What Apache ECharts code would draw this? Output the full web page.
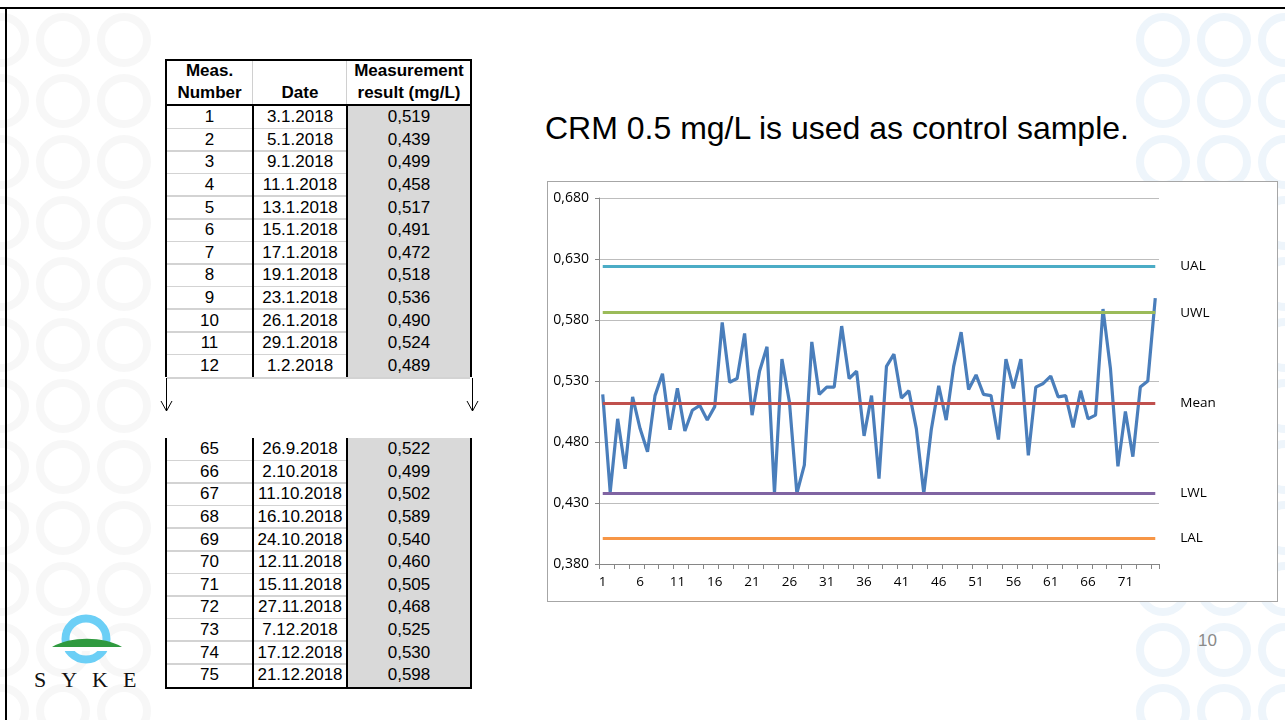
<!DOCTYPE html>
<html><head><meta charset="utf-8">
<script src="https://cdn.jsdelivr.net/npm/echarts@6/dist/echarts.min.js"></script>
<style>
html,body{margin:0;padding:0;background:#fff;width:1285px;height:720px;overflow:hidden;position:relative;font-family:"Liberation Sans",Arial,sans-serif;}
#bg{position:absolute;left:0;top:0;}
#chart{position:absolute;left:0;top:0;width:1285px;height:720px;}
.a{position:absolute;box-sizing:border-box;}
.t{position:absolute;display:flex;align-items:center;justify-content:center;white-space:nowrap;color:#000;}
</style></head><body>
<svg id="bg" width="1285" height="720" xmlns="http://www.w3.org/2000/svg"></svg>
<div id="deco"></div>
<div id="chart"></div>
<script>
// ---------------- data ----------------
const measNumbers = ['1','2','3','4','5','6','7','8','9','10','11','12','13','14','15','16','17','18','19','20',
 '21','22','23','24','25','26','27','28','29','30','31','32','33','34','35','36','37','38','39','40',
 '41','42','43','44','45','46','47','48','49','50','51','52','53','54','55','56','57','58','59','60',
 '61','62','63','64','65','66','67','68','69','70','71','72','73','74','75'];
const measurements = [0.519,0.439,0.499,0.458,0.517,0.491,0.472,0.518,0.536,0.490,0.524,0.489,
 0.506,0.510,0.498,0.509,0.578,0.529,0.532,0.569,0.502,0.538,0.558,0.438,0.548,0.513,0.438,0.461,
 0.562,0.519,0.525,0.525,0.575,0.532,0.538,0.485,0.518,0.450,0.542,0.552,0.516,0.522,0.491,0.438,
 0.490,0.526,0.498,0.542,0.570,0.523,0.535,0.519,0.518,0.482,0.548,0.524,0.548,0.469,0.525,0.528,
 0.534,0.517,0.518,0.492,0.522,0.499,0.502,0.589,0.540,0.460,0.505,0.468,0.525,0.530,0.598];
const limitNames = ['UAL','UWL','Mean','LWL','LAL'];
const limitValues = [0.624,0.586,0.512,0.438,0.401];
const yMin = 0.38, yMax = 0.68, yStep = 0.05;
const tableFirstIdx = [0,1,2,3,4,5,6,7,8,9,10,11];
const tableFirstDates = ['3.1.2018','5.1.2018','9.1.2018','11.1.2018','13.1.2018','15.1.2018','17.1.2018','19.1.2018','23.1.2018','26.1.2018','29.1.2018','1.2.2018'];
const tableLastIdx = [64,65,66,67,68,69,70,71,72,73,74];
const tableLastDates = ['26.9.2018','2.10.2018','11.10.2018','16.10.2018','24.10.2018','12.11.2018','15.11.2018','27.11.2018','7.12.2018','17.12.2018','21.12.2018'];
const headers = [['Meas.','Number'],['','Date'],['Measurement','result (mg/L)']];
const titleText = 'CRM 0.5 mg/L is used as control sample.';
const pageNumber = '10';
const logoText = 'SYKE';

// ---------------- styles ----------------
const limitColors = ['#4bacc6','#9bbb59','#c0504d','#8064a2','#f79646'];
const fmt = v => v.toFixed(3).replace('.', ',');

// ---------------- background svg ----------------
const NS = 'http://www.w3.org/2000/svg';
const svg = document.getElementById('bg');
function sv(tag, attrs){const e=document.createElementNS(NS,tag);for(const k in attrs)e.setAttribute(k,attrs[k]);svg.appendChild(e);return e;}
for(let y=40;y<760;y+=61){
  for(const x of [2,63,124]) sv('circle',{cx:x,cy:y,r:23,fill:'none',stroke:'#f7f7f7','stroke-width':8});
  for(const x of [1163,1224,1285]) sv('circle',{cx:x,cy:y,r:23,fill:'none',stroke:'#eef5fb','stroke-width':8});
}
// slide border
sv('rect',{x:0,y:7,width:1290,height:2,fill:'#000'});
sv('rect',{x:5,y:7,width:2,height:720,fill:'#000'});
// chart frame
sv('rect',{x:547.5,y:181.5,width:730,height:420,fill:'#fff',stroke:'#a6a6a6','stroke-width':1});
// logo
sv('circle',{cx:86,cy:639,r:20.5,fill:'none',stroke:'#6ccff6','stroke-width':8});
sv('rect',{x:50,y:645,width:74,height:6,fill:'#fff'});
sv('path',{d:'M52 647 C70 636 104 636 122 647 Z',fill:'#2f9a3f'});
// arrows between table blocks
sv('path',{d:'M166.5 378 L166.5 411 M161 401 L166.5 411 L172 401',stroke:'#000','stroke-width':1,fill:'none'});
sv('path',{d:'M472.5 378 L472.5 411 M467 401 L472.5 411 L478 401',stroke:'#000','stroke-width':1,fill:'none'});

// ---------------- table / texts ----------------
const deco = document.getElementById('deco');
function box(x,y,w,h,c){const d=document.createElement('div');d.className='a';d.style.cssText=`left:${x}px;top:${y}px;width:${w}px;height:${h}px;background:${c};`;deco.appendChild(d);return d;}
function txt(x,y,w,h,s,css){const d=document.createElement('div');d.className='t';d.style.cssText=`left:${x}px;top:${y}px;width:${w}px;height:${h}px;${css||''}`;d.textContent=s;deco.appendChild(d);return d;}
const L=166, C1=253, C2=347, R=471, rowH=22.6;
function block(top, idxs, dates, withBottom){
  const h = idxs.length*rowH;
  box(C2+1, top, R-C2-2, h, '#d9d9d9');
  idxs.forEach((idx,k)=>{
    const y = top + k*rowH;
    if(k>0) box(L+1, y-1, C2-L-2, 1.5, '#d3d3d3');
    txt(L, y, C1-L, rowH, measNumbers[idx], 'font-size:17px;');
    txt(C1, y, C2-C1, rowH, dates[k], 'font-size:17px;');
    txt(C2, y, R-C2, rowH, fmt(measurements[idx]), 'font-size:17px;');
  });
  box(L-1, top, 2, h, '#000');
  box(R-1, top, 2, h, '#000');
  box(C1-1, top, 2, h, '#000');
  box(C2-1, top, 2, h, '#000');
  if(withBottom) box(L-1, top+h, R-L+2, 2, '#000');
  else box(L+1, top+h, R-L-2, 1.5, '#d3d3d3');
}
// header
box(L-1, 59, R-L+2, 2, '#000');
box(L-1, 59, 2, 47, '#000');
box(R-1, 59, 2, 47, '#000');
box(C1-1, 61, 1, 43, '#d0d0d0');
box(C2-1, 61, 1, 43, '#d0d0d0');
box(L-1, 104, R-L+2, 2, '#000');
const cols=[[L,C1],[C1,C2],[C2,R]];
headers.forEach((hh,i)=>{
  txt(cols[i][0], 60, cols[i][1]-cols[i][0], 21, hh[0], 'font-size:17px;font-weight:bold;');
  txt(cols[i][0], 82, cols[i][1]-cols[i][0], 21, hh[1], 'font-size:17px;font-weight:bold;');
});
block(106, tableFirstIdx, tableFirstDates, false);
block(438, tableLastIdx, tableLastDates, true);

// title, page number, logo text
const tt = document.createElement('div');tt.className='a';tt.style.cssText='left:545px;top:108px;font-size:32px;line-height:40px;white-space:nowrap;color:#000;';tt.textContent=titleText;deco.appendChild(tt);
const pn = document.createElement('div');pn.className='a';pn.style.cssText='left:1198px;top:630px;font-size:17px;line-height:22px;color:#8a8a8a;';pn.textContent=pageNumber;deco.appendChild(pn);
const lg = document.createElement('div');lg.className='a';lg.style.cssText='left:34px;top:666px;font-family:"Liberation Serif","DejaVu Serif",serif;font-size:22px;line-height:28px;letter-spacing:15px;color:#111;white-space:nowrap;';lg.textContent=logoText;deco.appendChild(lg);

// ---------------- chart ----------------
const chart = echarts.init(document.getElementById('chart'), null, {renderer:'canvas'});
const markData = limitNames.map((n,i)=>[
  {name:n, coord:[0, limitValues[i]], lineStyle:{color:limitColors[i], width:3, type:'solid'}},
  {coord:[measNumbers.length-1, limitValues[i]]}
]);
chart.setOption({
  animation:false,
  backgroundColor:'transparent',
  grid:{left:599, right:126, top:198, bottom:156, containLabel:false},
  xAxis:{type:'category', data:measNumbers, boundaryGap:true,
    axisLine:{lineStyle:{color:'#868686', width:1}},
    axisTick:{show:true, interval:1, length:5, lineStyle:{color:'#868686'}},
    axisLabel:{interval:4, color:'#000', fontSize:13.5, fontFamily:'Open Sans', margin:11},
    splitLine:{show:false}},
  yAxis:{type:'value', min:yMin, max:yMax, interval:yStep,
    axisLine:{show:true, lineStyle:{color:'#868686'}},
    axisTick:{show:true, length:4, lineStyle:{color:'#868686'}},
    axisLabel:{formatter:v=>fmt(v), color:'#000', fontSize:14, fontFamily:'Open Sans', margin:10},
    splitLine:{show:true, lineStyle:{color:'#bdbdbd', width:1}}},
  series:[{
    type:'line', data:measurements, symbol:'none', smooth:false,
    lineStyle:{color:'#4a7ebb', width:3.2},
    markLine:{silent:true, symbol:['none','none'], animation:false,
      label:{show:true, position:'end', formatter:'{b}', color:'#000', fontSize:13.5, fontFamily:'Open Sans', distance:25},
      data:markData}
  }]
});
</script>
</body></html>
